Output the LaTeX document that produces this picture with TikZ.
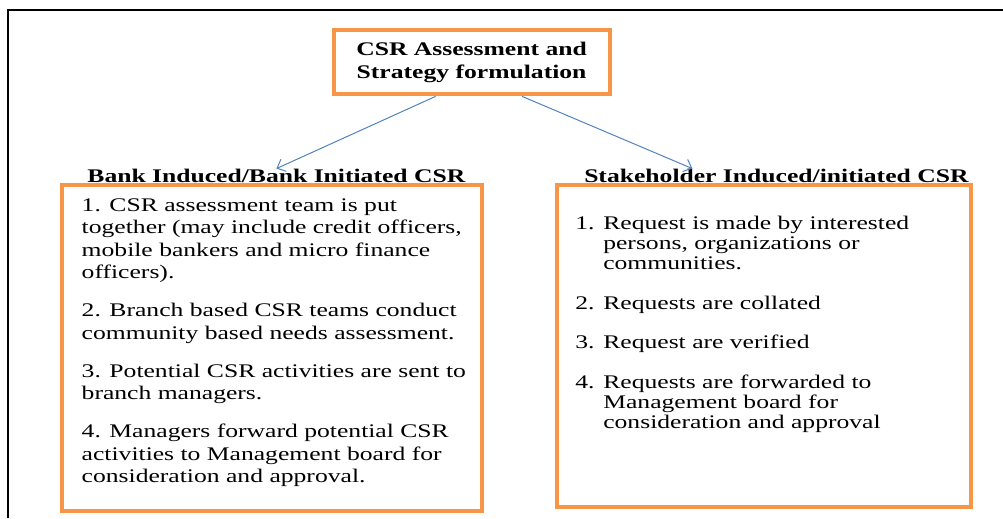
\documentclass[tikz,border=0pt]{standalone}
\usepackage{fontspec}
\setmainfont[FakeStretch=1.33]{Liberation Serif}
\usepackage{xcolor}
\usepackage{tikz}
\usetikzlibrary{arrows.meta, positioning, calc}

\definecolor{csrorange}{HTML}{F79646}
\definecolor{linkblue}{HTML}{4F81BD}

\begin{document}
\begin{tikzpicture}[>={Straight Barb[length=1.8mm, width=3.3mm]},
            box/.style={draw=csrorange, line width=2.8pt, rectangle, inner sep=0pt},
            head/.style={font=\bfseries\fontsize{13.7}{17}\selectfont, inner sep=0pt},
            lbody/.style={font=\fontsize{13.7}{16}\selectfont, align=left, inner sep=0pt},
            rbody/.style={font=\fontsize{13.7}{14.2}\selectfont, inner sep=0pt},
            link/.style={->, draw=linkblue, line width=0.7pt}]

            \useasboundingbox (0,0) rectangle (25.075,12.95);
            \draw[line width=1.2pt] (0.2,0) -- (0.2,12.7) -- (25.075,12.7);

            \node[box, head, align=center, minimum width=6.9cm, minimum height=1.6cm] (top) at (11.79,11.39)
                {CSR Assessment and\\Strategy formulation};
            \node[box, minimum width=10.5cm, minimum height=8.15cm] (lbox) at (6.81,4.24) {};
            \node[box, minimum width=10.35cm, minimum height=8.05cm] (rbox) at (19.1,4.29) {};

            \node[head, anchor=base] (lhead) at ($(lbox.north)+(0.1,0.03)$) {Bank Induced/Bank Initiated CSR};
            \node[head, anchor=base] (rhead) at ($(rbox.north)+(0.31,0.03)$) {Stakeholder Induced/initiated CSR};

            % ===== bank initiated steps =====
            \node[lbody, below right=0.375cm and 0.525cm of lbox.north west] (lsteps) {%
                1. CSR assessment team is put\\
                together (may include credit officers,\\
                mobile bankers and micro finance\\
                officers).\\[11pt]
                2. Branch based CSR teams conduct\\
                community based needs assessment.\\[11pt]
                3. Potential CSR activities are sent to\\
                branch managers.\\[11pt]
                4. Managers forward potential CSR\\
                activities to Management board for\\
                consideration and approval.};

            % ===== stakeholder initiated steps =====
            \node[rbody, below right=0.8cm and 0.5cm of rbox.north west] (rsteps) {%
                \begin{tabular}{@{}p{0.7cm}@{}l@{}}
                1. & Request is made by interested\\
                   & persons, organizations or\\
                   & communities.\\[14pt]
                2. & Requests are collated\\[14pt]
                3. & Request are verified\\[14pt]
                4. & Requests are forwarded to\\
                   & Management board for\\
                   & consideration and approval
                \end{tabular}};

            \draw[link] ($(top.south)+(-0.9,0)$) -- (lhead.north);
            \draw[link] ($(top.south)+(1.26,0)$) -- ($(rhead.north)+(-2.1,0)$);
        \end{tikzpicture}
\end{document}
